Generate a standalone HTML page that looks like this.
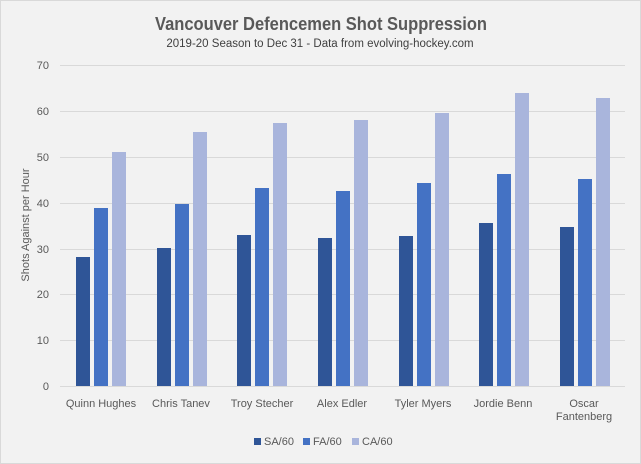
<!DOCTYPE html>
<html><head><style>
html,body{margin:0;padding:0;background:#f2f2f2;}
svg{display:block;}
text{font-family:"Liberation Sans",sans-serif;}
</style></head><body>
<svg width="641" height="464" xmlns="http://www.w3.org/2000/svg">
<rect x="0.5" y="0.5" width="640" height="463" fill="#f2f2f2" stroke="#d9d9d9"/>
<text x="321" y="30" text-anchor="middle" font-size="18" fill="#595959" font-weight="bold" textLength="332" lengthAdjust="spacingAndGlyphs">Vancouver Defencemen Shot Suppression</text>
<text x="320" y="47" text-anchor="middle" font-size="11.5" fill="#404040">2019-20 Season to Dec 31 - Data from evolving-hockey.com</text>
<g stroke="#d9d9d9" stroke-width="1">
<line x1="60" x2="625" y1="65.5" y2="65.5"/>
<line x1="60" x2="625" y1="111.5" y2="111.5"/>
<line x1="60" x2="625" y1="157.5" y2="157.5"/>
<line x1="60" x2="625" y1="203.5" y2="203.5"/>
<line x1="60" x2="625" y1="249.5" y2="249.5"/>
<line x1="60" x2="625" y1="294.5" y2="294.5"/>
<line x1="60" x2="625" y1="340.5" y2="340.5"/>
<line x1="60" x2="625" y1="386.5" y2="386.5"/>
</g>
<g font-size="11" fill="#595959" text-anchor="end">
<text x="49" y="69">70</text><text x="49" y="115">60</text><text x="49" y="161">50</text>
<text x="49" y="207">40</text><text x="49" y="253">30</text><text x="49" y="298">20</text>
<text x="49" y="344">10</text><text x="49" y="390">0</text>
</g>
<text transform="translate(29,225) rotate(-90)" text-anchor="middle" font-size="11" fill="#595959">Shots Against per Hour</text>
<g>
<rect x="76" y="257" width="14" height="129" fill="#2f5597"/>
<rect x="94" y="208" width="14" height="178" fill="#4472c4"/>
<rect x="112" y="152" width="14" height="234" fill="#a9b5dc"/>
<rect x="157" y="248" width="14" height="138" fill="#2f5597"/>
<rect x="175" y="204" width="14" height="182" fill="#4472c4"/>
<rect x="193" y="132" width="14" height="254" fill="#a9b5dc"/>
<rect x="237" y="235" width="14" height="151" fill="#2f5597"/>
<rect x="255" y="188" width="14" height="198" fill="#4472c4"/>
<rect x="273" y="123" width="14" height="263" fill="#a9b5dc"/>
<rect x="318" y="238" width="14" height="148" fill="#2f5597"/>
<rect x="336" y="191" width="14" height="195" fill="#4472c4"/>
<rect x="354" y="120" width="14" height="266" fill="#a9b5dc"/>
<rect x="399" y="236" width="14" height="150" fill="#2f5597"/>
<rect x="417" y="183" width="14" height="203" fill="#4472c4"/>
<rect x="435" y="113" width="14" height="273" fill="#a9b5dc"/>
<rect x="479" y="223" width="14" height="163" fill="#2f5597"/>
<rect x="497" y="174" width="14" height="212" fill="#4472c4"/>
<rect x="515" y="93" width="14" height="293" fill="#a9b5dc"/>
<rect x="560" y="227" width="14" height="159" fill="#2f5597"/>
<rect x="578" y="179" width="14" height="207" fill="#4472c4"/>
<rect x="596" y="98" width="14" height="288" fill="#a9b5dc"/>
</g>
<g font-size="11" fill="#595959" text-anchor="middle">
<text x="101" y="407">Quinn Hughes</text>
<text x="181" y="407">Chris Tanev</text>
<text x="262" y="407">Troy Stecher</text>
<text x="342" y="407">Alex Edler</text>
<text x="423" y="407">Tyler Myers</text>
<text x="503" y="407">Jordie Benn</text>
<text x="584" y="407">Oscar</text>
<text x="584" y="420">Fantenberg</text>
</g>
<g font-size="11" fill="#595959">
<rect x="254" y="438" width="7" height="7" fill="#2f5597"/><text x="264" y="445">SA/60</text>
<rect x="303" y="438" width="7" height="7" fill="#4472c4"/><text x="313" y="445">FA/60</text>
<rect x="352" y="438" width="7" height="7" fill="#a9b5dc"/><text x="362" y="445">CA/60</text>
</g>
</svg>
</body></html>
